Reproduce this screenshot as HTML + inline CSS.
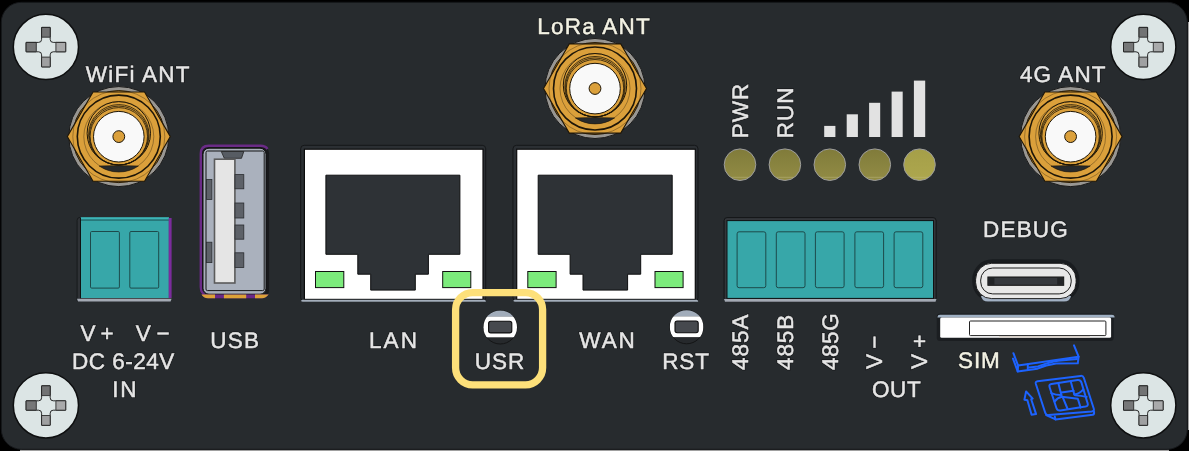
<!DOCTYPE html>
<html><head><meta charset="utf-8">
<style>
html,body{margin:0;padding:0;background:#000;width:1189px;height:451px;overflow:hidden}
svg{display:block;will-change:transform}
text{font-family:"Liberation Sans",sans-serif;font-size:24px;fill:#e6e6e6;text-rendering:geometricPrecision}
</style></head><body>
<svg width="1189" height="451" viewBox="0 0 1189 451">
<defs>
  <g id="screw">
    <circle cx="0" cy="-0.2" r="32.6" fill="#dce5e5" stroke="#0e0f10" stroke-width="1.5"/>
    <path d="M-4.3,-19.7 H4.3 V-7.7 Q4.3,-4.7 7.3,-4.7 H19.8 V4.7 H7.3 Q4.3,4.7 4.3,7.7 V19.8 H-4.3 V7.7 Q-4.3,4.7 -7.3,4.7 H-19.8 V-4.7 H-7.3 Q-4.3,-4.7 -4.3,-7.7 Z" fill="#dce5e5" stroke="#151515" stroke-width="0.9"/>
    <rect x="-4.3" y="-19.7" width="8.6" height="9.8" rx="0.4" fill="#727374" stroke="#1a1a1a" stroke-width="0.8"/>
    <rect x="-4.3" y="10" width="8.6" height="9.8" rx="0.4" fill="#9fa0a1" stroke="#1a1a1a" stroke-width="0.8"/>
    <rect x="-19.8" y="-4.7" width="10.2" height="9.4" rx="0.4" fill="#767778" stroke="#1a1a1a" stroke-width="0.8"/>
    <rect x="10" y="-4.7" width="9.8" height="9.4" rx="0.4" fill="#a9aaab" stroke="#1a1a1a" stroke-width="0.8"/>
  </g>
  <g id="sma">
    <circle r="50" fill="#989692" stroke="#1a1a1a" stroke-width="1"/>
    <circle r="46" fill="#dba03b" stroke="#2a1d08" stroke-width="1"/>
    <polygon points="-51.5,0 -25.75,-44.6 25.75,-44.6 51.5,0 25.75,44.6 -25.75,44.6" fill="#dba03b" stroke="#1e1608" stroke-width="1.1"/>
    <circle r="46" fill="none" stroke="#2a1d08" stroke-width="0.6" stroke-opacity="0.6"/>
    <circle r="41.5" fill="#dba03b" stroke="#1e1608" stroke-width="1.6"/>
    <circle cx="0" cy="0" r="35" fill="none" stroke="#1e1608" stroke-width="0.8" stroke-opacity="0.45"/>
    <path d="M-19.6,29.4 A35,35 0 0 0 19.6,29.4 Q0,28.6 -19.6,29.4 Z" fill="#272a2c" stroke="#1e1608" stroke-width="0.6"/>
    <circle cx="0" cy="-3.3" r="31.7" fill="none" stroke="#1e1608" stroke-width="1"/>
    <circle cx="0" cy="-1.8" r="30.2" fill="none" stroke="#1e1608" stroke-width="0.8"/>
    <circle cx="0" cy="-1.05" r="29.45" fill="none" stroke="#1e1608" stroke-width="0.8"/>
    <circle cx="0" cy="-0.3" r="28.7" fill="none" stroke="#1e1608" stroke-width="0.8"/>
    <circle cx="0" cy="0.1" r="25.3" fill="#f9f9f9" stroke="#1e1608" stroke-width="1"/>
    <circle r="5.9" fill="#dba03b" stroke="#1e1608" stroke-width="1"/>
  </g>
  <g id="rj45">
    <rect x="0.2" y="0.4" width="185" height="156" rx="3.5" fill="#2b2f33" stroke="#151719" stroke-width="1"/>
    <rect x="3.9" y="4.3" width="178.6" height="150.2" fill="#ffffff" stroke="#0a0b0c" stroke-width="1.2"/>
    <path d="M2.5,154.9 H183.5 Q185.4,154.9 185.4,156.8 H2.5 Q0.6,156.8 0.6,155.8 Q0.6,154.9 2.5,154.9 Z" fill="#a4aebb"/>
    <path d="M25.4,30.3 H159.4 V109.4 H127.9 V129.3 H114.8 V145.2 H70.2 V129.3 H57.3 V109.4 H25.4 Z" fill="#2e3236" stroke="#0e0f10" stroke-width="1"/>
    <rect x="15.0" y="126.6" width="28.3" height="16.1" fill="#7ceb7c" stroke="#111" stroke-width="1"/>
    <rect x="142.2" y="126.6" width="28.1" height="16.1" fill="#7ceb7c" stroke="#111" stroke-width="1"/>
  </g>
  <g id="btn">
    <clipPath id="bclip"><circle r="16.8"/></clipPath>
    <circle r="16.8" fill="#26292c" stroke="#141516" stroke-width="1"/>
    <g clip-path="url(#bclip)">
      <rect x="-17" y="-17" width="34" height="6.5" fill="#a1acba"/>
      <rect x="-17" y="-10.6" width="34" height="20.7" fill="#ffffff"/>
    </g>
    <rect x="-11.6" y="-6" width="23.2" height="11.7" rx="2.2" fill="#46494e" stroke="#0d0d0e" stroke-width="1.1"/>
  </g>
  <linearGradient id="ledg" x1="0" y1="0" x2="0" y2="1">
    <stop offset="0" stop-color="#807b3a"/><stop offset="1" stop-color="#928c45"/>
  </linearGradient>
  <linearGradient id="ledg5" x1="0" y1="0" x2="0" y2="1">
    <stop offset="0" stop-color="#a59f48"/><stop offset="1" stop-color="#ada74e"/>
  </linearGradient>
</defs>

<!-- edge strips -->
<rect x="1187.8" y="22" width="1.2" height="408" fill="#a0a0a0"/>
<rect x="20" y="449.6" width="1149" height="1.4" fill="#a0a0a0"/>
<!-- panel -->
<rect x="1.3" y="2.3" width="1186" height="447" rx="20" fill="#272b2e" stroke="#15171a" stroke-width="1"/>

<!-- screws -->
<use href="#screw" x="45.9" y="47.1"/>
<use href="#screw" x="1143.3" y="47.1"/>
<use href="#screw" x="45.9" y="405.5"/>
<use href="#screw" x="1143.3" y="405.5"/>

<!-- antennas -->
<use href="#sma" x="118.8" y="136.6"/>
<use href="#sma" x="595" y="88.5"/>
<use href="#sma" x="1070.6" y="136.6"/>

<!-- left terminal block -->
<path d="M80.5,217.4 H80 Q77.1,217.4 77.1,220.4 V301 H80.5 Z" fill="#2f3236" stroke="#131517" stroke-width="0.8"/>
<rect x="80.3" y="217.4" width="88.6" height="80.6" fill="#37a7a9"/>
<rect x="80.3" y="217.4" width="88.6" height="2.1" fill="#3cb4b7"/>
<rect x="80.3" y="219.5" width="88.6" height="1.1" fill="#1f5a5b"/>
<rect x="80" y="217.4" width="1" height="80.6" fill="#101213"/>
<rect x="168.7" y="218" width="2.9" height="80" fill="#7b2c9c"/>
<path d="M77,298.7 H171.6 L170.6,301.4 H78 Z" fill="#a3a9b3"/>
<rect x="90.5" y="231.5" width="28.9" height="56.6" rx="1.2" fill="#37a7a9" stroke="#1d4a4b" stroke-width="1"/>
<rect x="129.8" y="231.5" width="28.9" height="56.6" rx="1.2" fill="#37a7a9" stroke="#1d4a4b" stroke-width="1"/>

<!-- USB-A -->
<rect x="200.3" y="145.3" width="68.8" height="152.7" rx="8" fill="#18191c"/>
<path d="M207,296 Q200.8,294 200.8,287 V153.8 Q200.8,145.8 208.8,145.8 H260.5 Q265.5,145.8 267.5,149" fill="none" stroke="#6a2b86" stroke-width="2.4"/>
<rect x="203" y="148.2" width="63" height="146" rx="6" fill="#a8afbb" stroke="#111" stroke-width="1"/>
<rect x="206" y="151" width="58.2" height="139.6" rx="1.5" fill="#aab1bd" stroke="#151515" stroke-width="1"/>
<polygon points="221.3,151.5 243.8,151.5 241.5,158.3 224.3,158.3" fill="#575c63" stroke="#222" stroke-width="0.8"/>
<rect x="214.5" y="159.2" width="20.4" height="123.8" fill="#e5e5e5" stroke="#5b5b5b" stroke-width="1.6"/>
<rect x="235" y="174.6" width="8.8" height="14.2" fill="#5d6168" stroke="#2a2c30" stroke-width="0.8"/>
<rect x="235" y="203" width="8.8" height="15" fill="#5d6168" stroke="#2a2c30" stroke-width="0.8"/>
<rect x="235" y="225" width="8.8" height="14.2" fill="#5d6168" stroke="#2a2c30" stroke-width="0.8"/>
<rect x="235" y="252.8" width="8.8" height="14.7" fill="#5d6168" stroke="#2a2c30" stroke-width="0.8"/>
<rect x="206.5" y="179.4" width="5.4" height="20" fill="#5d6168" stroke="#2a2c30" stroke-width="0.8"/>
<rect x="206.5" y="242.2" width="5.4" height="20.4" fill="#5d6168" stroke="#2a2c30" stroke-width="0.8"/>
<path d="M201.5,294.6 H268.6 Q266,298.3 262,298.3 H208 Q203.5,298.3 201.5,294.6 Z" fill="#6a2787"/>
<path d="M201.5,294.6 H215 V298.3 H208 Q203.5,298.3 201.5,294.6 Z" fill="#dca238"/>
<rect x="223.9" y="294.6" width="22.3" height="3.7" fill="#dca238"/>
<path d="M255,294.6 H268.6 Q266,298.3 262,298.3 H255 Z" fill="#dca238"/>

<!-- RJ45 -->
<use href="#rj45" x="300.5" y="144.9"/>
<use href="#rj45" x="512.8" y="144.9"/>

<!-- buttons -->
<use href="#btn" x="500.2" y="327.2"/>
<use href="#btn" x="686.6" y="327"/>

<!-- LEDs -->
<g stroke="#9d9d9d" stroke-width="1">
<circle cx="740" cy="164.7" r="15.8" fill="url(#ledg)"/>
<circle cx="784.9" cy="164.7" r="15.8" fill="url(#ledg)"/>
<circle cx="829.8" cy="164.7" r="15.8" fill="url(#ledg)"/>
<circle cx="874.8" cy="164.7" r="15.8" fill="url(#ledg)"/>
<circle cx="919.5" cy="164.7" r="15.8" fill="url(#ledg5)"/>
</g>

<g stroke="#c4be86" stroke-width="0.8" stroke-opacity="0.55">
<line x1="731.5" y1="177.3" x2="748.5" y2="177.3"/>
<line x1="776.4" y1="177.3" x2="793.4" y2="177.3"/>
<line x1="821.3" y1="177.3" x2="838.3" y2="177.3"/>
<line x1="866.3" y1="177.3" x2="883.3" y2="177.3"/>
<line x1="911.0" y1="177.3" x2="928.0" y2="177.3"/>
</g>
<!-- signal bars -->
<g fill="#e2e2e2">
<rect x="824.2" y="125.9" width="11.2" height="11.1"/>
<rect x="846.7" y="114.3" width="11.2" height="22.7"/>
<rect x="869.1" y="102.8" width="11.1" height="34.2"/>
<rect x="891.6" y="91.6" width="11.1" height="45.4"/>
<rect x="913.9" y="80.6" width="11.3" height="56.4"/>
</g>

<!-- right terminal block -->
<rect x="724.1" y="217.6" width="212" height="83.8" rx="3" fill="#33363a" stroke="#131517" stroke-width="1"/>
<rect x="727" y="220.6" width="206.5" height="77.8" fill="#37a7a9" stroke="#0f1112" stroke-width="1"/>
<path d="M724,298.9 H936.5 L935.5,301.7 H725 Z" fill="#a3a9b3"/>
<g fill="#37a7a9" stroke="#1d4a4b" stroke-width="1">
<rect x="737.1" y="231.8" width="28.7" height="55.9" rx="2"/>
<rect x="776.3" y="231.8" width="28.7" height="55.9" rx="2"/>
<rect x="815.4" y="231.8" width="28.7" height="55.9" rx="2"/>
<rect x="854.9" y="231.8" width="28.7" height="55.9" rx="2"/>
<rect x="894.1" y="231.8" width="28.7" height="55.9" rx="2"/>
</g>

<!-- USB-C -->
<rect x="972.3" y="259.3" width="107.1" height="42.6" rx="20" fill="#191c1f"/>
<path d="M981,296 H1071 Q1070,301.6 1064,301.6 H988 Q982,301.6 981,296 Z" fill="#a2b1c4"/>
<rect x="975.6" y="263.3" width="100.5" height="35.3" rx="16" fill="#e8e8e8" stroke="#0e0f10" stroke-width="0.9"/>
<rect x="980.7" y="268" width="90.5" height="25.9" rx="12" fill="none" stroke="#1c1c1c" stroke-width="1"/>
<rect x="987.9" y="277" width="75.8" height="8.3" fill="#36393e" stroke="#111" stroke-width="1"/>
<rect x="988.4" y="277.5" width="6" height="7.3" fill="#222427"/>
<rect x="1057.2" y="277.5" width="6" height="7.3" fill="#222427"/>

<!-- SIM slot -->
<rect x="936.7" y="313.4" width="177" height="27.5" rx="3.5" fill="#1b1e21"/>
<path d="M937.5,317.4 V317 Q937.5,314.8 940,314.8 H1112 Q1114.6,314.8 1114.6,317.4 Z" fill="#9fb0c3"/>
<rect x="940.2" y="317.4" width="170.9" height="20.4" rx="1.5" fill="#ffffff"/>
<rect x="969.5" y="321" width="136.4" height="14.6" rx="1" fill="#ffffff" stroke="#222" stroke-width="1"/>
<rect x="999.2" y="336" width="90.6" height="1.6" fill="#d8d0c8"/>

<!-- SIM icon -->
<g fill="none" stroke="#1d63ff" stroke-width="2" stroke-linejoin="round" stroke-linecap="round">
  <path d="M1013.4,353.2 L1018.1,365.6 L1078.6,356.7 L1074,345.4"/>
  <path d="M1013,358.6 L1017.7,371.4 L1037.5,368.7 Q1046,365 1056.1,363.6 L1077.8,363.3 L1078.6,356.7"/>
  <path d="M1018.1,365.6 L1017.7,371.4"/>
  <path d="M1027.8,364.2 L1027.8,369.6"/>
  <path d="M1029,367.4 L1038,366.4 Q1050,362 1058,360.8 L1077,359"/>
  <path d="M1037.6,381.2 Q1035.2,381.6 1035.8,383.8 L1045.4,413.2 Q1046.2,415.4 1048.6,415.1 L1091.6,411.6 Q1094.6,411.2 1093.8,408.8 L1083.8,377.8 Q1083,375.6 1080.6,375.9 Z"/>
  <path d="M1046.2,415 L1055.5,419.4 L1092.8,414.8 Q1094.6,414.2 1094,411.6"/>
  <path d="M1055.5,419.4 L1054.8,416.4"/>
  <path d="M1051.6,384 Q1048.6,384.4 1049.6,387.2 L1056.4,408 Q1057.4,410.9 1060.4,410.5 L1085.4,406.6 Q1088.6,406 1087.6,403.2 L1081.4,382.4 Q1080.4,379.7 1077.6,380.1 Z"/>
  <path d="M1058.3,383.1 L1061.4,395.1"/>
  <path d="M1070.7,381.3 L1074.3,394.6"/>
  <path d="M1061.4,392.4 L1073.6,390.8"/>
  <path d="M1051.2,393.1 Q1056,395.2 1061.4,395.1"/>
  <path d="M1074.3,394.6 Q1080,393.4 1083.3,389.3"/>
  <path d="M1054.6,401.6 Q1057.4,397.6 1061.8,396.8 L1077.8,398.8 L1080.6,407.6"/>
  <path d="M1062.6,396.8 L1067.6,409"/>
  <path d="M1075.1,395.2 Q1081,395.6 1086.7,396.9"/>
  <path d="M1031.6,414.7 L1027.4,400.2 L1024.4,399.7 L1026.1,391.4 L1032.7,398.6 L1031.2,399.2 L1036.1,414.1 Z"/>
</g>

<!-- highlight -->
<rect x="455.6" y="292.6" width="87" height="92.2" rx="17" fill="none" stroke="#fde07a" stroke-width="7.3"/>

<!-- labels -->
<text x="85.84" y="82.00" textLength="103.59" lengthAdjust="spacing" style="fill:#000;stroke:#121416;stroke-opacity:0.7;stroke-width:2.0px;font-size:22.5px">WiFi ANT</text>
<text x="85.84" y="82.00" textLength="103.59" lengthAdjust="spacing" style="fill:#e6e6e6;stroke:#e6e6e6;stroke-width:0.5px;font-size:22.5px">WiFi ANT</text>
<text x="537.17" y="34.00" textLength="112.65" lengthAdjust="spacing" style="fill:#000;stroke:#121416;stroke-opacity:0.7;stroke-width:2.0px;font-size:22.5px">LoRa ANT</text>
<text x="537.17" y="34.00" textLength="112.65" lengthAdjust="spacing" style="fill:#f3f2e4;stroke:#f3f2e4;stroke-width:0.5px;font-size:22.5px">LoRa ANT</text>
<text x="1019.93" y="82.00" textLength="85.66" lengthAdjust="spacing" style="fill:#000;stroke:#121416;stroke-opacity:0.7;stroke-width:2.0px;font-size:22.5px">4G ANT</text>
<text x="1019.93" y="82.00" textLength="85.66" lengthAdjust="spacing" style="fill:#e6e6e6;stroke:#e6e6e6;stroke-width:0.5px;font-size:22.5px">4G ANT</text>
<text x="80.46" y="341.00" textLength="33.21" lengthAdjust="spacing" style="fill:#000;stroke:#121416;stroke-opacity:0.7;stroke-width:2.0px;font-size:22.5px">V +</text>
<text x="80.46" y="341.00" textLength="33.21" lengthAdjust="spacing" style="fill:#e6e6e6;stroke:#e6e6e6;stroke-width:0.5px;font-size:22.5px">V +</text>
<text x="135.80" y="341.00" textLength="33.79" lengthAdjust="spacing" style="fill:#000;stroke:#121416;stroke-opacity:0.7;stroke-width:2.0px;font-size:22.5px">V −</text>
<text x="135.80" y="341.00" textLength="33.79" lengthAdjust="spacing" style="fill:#e6e6e6;stroke:#e6e6e6;stroke-width:0.5px;font-size:22.5px">V −</text>
<text x="72.07" y="369.00" textLength="102.13" lengthAdjust="spacing" style="fill:#000;stroke:#121416;stroke-opacity:0.7;stroke-width:2.0px;font-size:22.5px">DC 6-24V</text>
<text x="72.07" y="369.00" textLength="102.13" lengthAdjust="spacing" style="fill:#e6e6e6;stroke:#e6e6e6;stroke-width:0.5px;font-size:22.5px">DC 6-24V</text>
<text x="112.23" y="397.00" textLength="24.27" lengthAdjust="spacing" style="fill:#000;stroke:#121416;stroke-opacity:0.7;stroke-width:2.0px;font-size:22.5px">IN</text>
<text x="112.23" y="397.00" textLength="24.27" lengthAdjust="spacing" style="fill:#e6e6e6;stroke:#e6e6e6;stroke-width:0.5px;font-size:22.5px">IN</text>
<text x="210.20" y="348.00" textLength="48.73" lengthAdjust="spacing" style="fill:#000;stroke:#121416;stroke-opacity:0.7;stroke-width:2.0px;font-size:22.5px">USB</text>
<text x="210.20" y="348.00" textLength="48.73" lengthAdjust="spacing" style="fill:#e6e6e6;stroke:#e6e6e6;stroke-width:0.5px;font-size:22.5px">USB</text>
<text x="369.07" y="348.00" textLength="47.81" lengthAdjust="spacing" style="fill:#000;stroke:#121416;stroke-opacity:0.7;stroke-width:2.0px;font-size:22.5px">LAN</text>
<text x="369.07" y="348.00" textLength="47.81" lengthAdjust="spacing" style="fill:#e6e6e6;stroke:#e6e6e6;stroke-width:0.5px;font-size:22.5px">LAN</text>
<text x="579.32" y="348.00" textLength="55.51" lengthAdjust="spacing" style="fill:#000;stroke:#121416;stroke-opacity:0.7;stroke-width:2.0px;font-size:22.5px">WAN</text>
<text x="579.32" y="348.00" textLength="55.51" lengthAdjust="spacing" style="fill:#e6e6e6;stroke:#e6e6e6;stroke-width:0.5px;font-size:22.5px">WAN</text>
<text x="474.87" y="369.00" textLength="49.32" lengthAdjust="spacing" style="fill:#000;stroke:#121416;stroke-opacity:0.7;stroke-width:2.0px;font-size:22.5px">USR</text>
<text x="474.87" y="369.00" textLength="49.32" lengthAdjust="spacing" style="fill:#e6e6e6;stroke:#e6e6e6;stroke-width:0.5px;font-size:22.5px">USR</text>
<text x="662.32" y="369.00" textLength="46.56" lengthAdjust="spacing" style="fill:#000;stroke:#121416;stroke-opacity:0.7;stroke-width:2.0px;font-size:22.5px">RST</text>
<text x="662.32" y="369.00" textLength="46.56" lengthAdjust="spacing" style="fill:#e6e6e6;stroke:#e6e6e6;stroke-width:0.5px;font-size:22.5px">RST</text>
<text x="871.89" y="397.00" textLength="48.79" lengthAdjust="spacing" style="fill:#000;stroke:#121416;stroke-opacity:0.7;stroke-width:2.0px;font-size:22.5px">OUT</text>
<text x="871.89" y="397.00" textLength="48.79" lengthAdjust="spacing" style="fill:#e6e6e6;stroke:#e6e6e6;stroke-width:0.5px;font-size:22.5px">OUT</text>
<text x="982.98" y="237.00" textLength="84.84" lengthAdjust="spacing" style="fill:#000;stroke:#121416;stroke-opacity:0.7;stroke-width:2.0px;font-size:22.5px">DEBUG</text>
<text x="982.98" y="237.00" textLength="84.84" lengthAdjust="spacing" style="fill:#e6e6e6;stroke:#e6e6e6;stroke-width:0.5px;font-size:22.5px">DEBUG</text>
<text x="958.09" y="368.00" textLength="41.77" lengthAdjust="spacing" style="fill:#000;stroke:#121416;stroke-opacity:0.7;stroke-width:2.0px;font-size:22.5px">SIM</text>
<text x="958.09" y="368.00" textLength="41.77" lengthAdjust="spacing" style="fill:#f3f2e4;stroke:#f3f2e4;stroke-width:0.5px;font-size:22.5px">SIM</text>
<text transform="translate(748.00,138.16) rotate(-90)" textLength="54.38" lengthAdjust="spacing" style="fill:#000;stroke:#121416;stroke-opacity:0.7;stroke-width:2.0px;font-size:22.5px">PWR</text>
<text transform="translate(748.00,138.16) rotate(-90)" textLength="54.38" lengthAdjust="spacing" style="fill:#e6e6e6;stroke:#e6e6e6;stroke-width:0.5px;font-size:22.5px">PWR</text>
<text transform="translate(793.00,138.16) rotate(-90)" textLength="50.57" lengthAdjust="spacing" style="fill:#000;stroke:#121416;stroke-opacity:0.7;stroke-width:2.0px;font-size:22.5px">RUN</text>
<text transform="translate(793.00,138.16) rotate(-90)" textLength="50.57" lengthAdjust="spacing" style="fill:#e6e6e6;stroke:#e6e6e6;stroke-width:0.5px;font-size:22.5px">RUN</text>
<text transform="translate(748.00,370.01) rotate(-90)" textLength="55.56" lengthAdjust="spacing" style="fill:#000;stroke:#121416;stroke-opacity:0.7;stroke-width:2.0px;font-size:22.5px">485A</text>
<text transform="translate(748.00,370.01) rotate(-90)" textLength="55.56" lengthAdjust="spacing" style="fill:#e6e6e6;stroke:#e6e6e6;stroke-width:0.5px;font-size:22.5px">485A</text>
<text transform="translate(793.00,370.01) rotate(-90)" textLength="55.29" lengthAdjust="spacing" style="fill:#000;stroke:#121416;stroke-opacity:0.7;stroke-width:2.0px;font-size:22.5px">485B</text>
<text transform="translate(793.00,370.01) rotate(-90)" textLength="55.29" lengthAdjust="spacing" style="fill:#e6e6e6;stroke:#e6e6e6;stroke-width:0.5px;font-size:22.5px">485B</text>
<text transform="translate(838.00,370.01) rotate(-90)" textLength="56.66" lengthAdjust="spacing" style="fill:#000;stroke:#121416;stroke-opacity:0.7;stroke-width:2.0px;font-size:22.5px">485G</text>
<text transform="translate(838.00,370.01) rotate(-90)" textLength="56.66" lengthAdjust="spacing" style="fill:#e6e6e6;stroke:#e6e6e6;stroke-width:0.5px;font-size:22.5px">485G</text>
<text transform="translate(882.00,368.91) rotate(-90)" textLength="33.30" lengthAdjust="spacing" style="fill:#000;stroke:#121416;stroke-opacity:0.7;stroke-width:2.0px;font-size:22.5px">V −</text>
<text transform="translate(882.00,368.91) rotate(-90)" textLength="33.30" lengthAdjust="spacing" style="fill:#e6e6e6;stroke:#e6e6e6;stroke-width:0.5px;font-size:22.5px">V −</text>
<text transform="translate(927.00,368.91) rotate(-90)" textLength="34.35" lengthAdjust="spacing" style="fill:#000;stroke:#121416;stroke-opacity:0.7;stroke-width:2.0px;font-size:22.5px">V +</text>
<text transform="translate(927.00,368.91) rotate(-90)" textLength="34.35" lengthAdjust="spacing" style="fill:#e6e6e6;stroke:#e6e6e6;stroke-width:0.5px;font-size:22.5px">V +</text>
</svg>
</body></html>
